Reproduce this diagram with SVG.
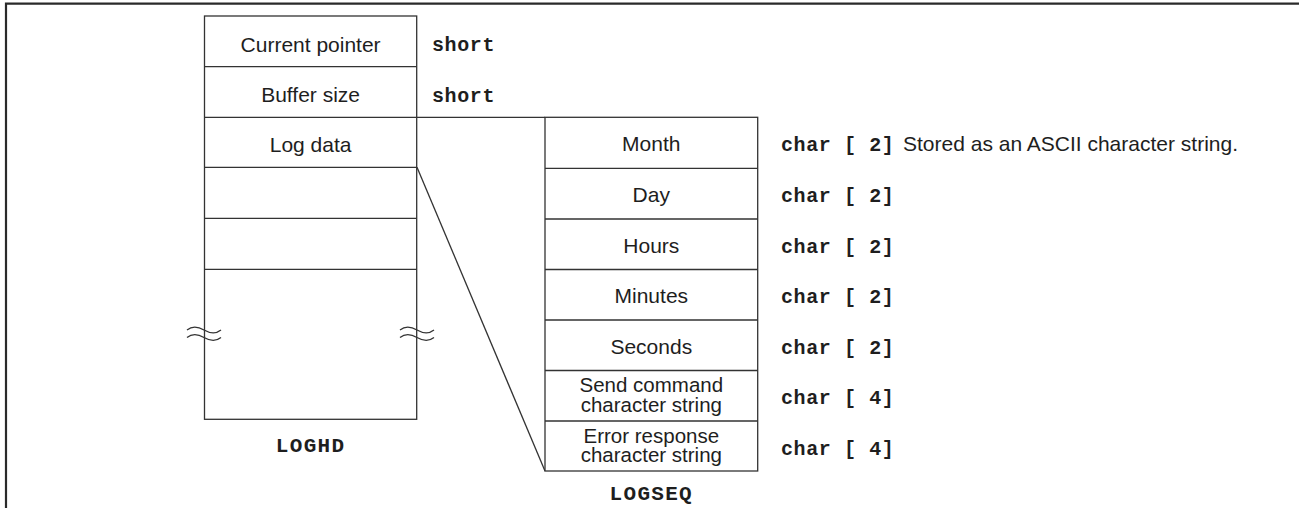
<svg xmlns="http://www.w3.org/2000/svg" width="1299" height="508" viewBox="0 0 1299 508">
<style>
.box{fill:#fff;stroke:#333;stroke-width:1.3}
.ln{fill:none;stroke:#333;stroke-width:1.3}
.lbl{font-family:"Liberation Sans",Arial,sans-serif;font-size:21px;fill:#1e1e1e;text-anchor:middle}
.lbl2{font-family:"Liberation Sans",Arial,sans-serif;font-size:20.5px;fill:#1e1e1e;text-anchor:middle}
.ty{font-family:"Liberation Mono","Courier New",monospace;font-weight:bold;font-size:20px;fill:#1e1e1e;letter-spacing:0.6px}
.ttl{font-family:"Liberation Mono","Courier New",monospace;font-weight:bold;font-size:21px;fill:#1e1e1e;letter-spacing:1.3px;text-anchor:middle}
.note{font-family:"Liberation Sans",Arial,sans-serif;font-size:21px;fill:#1e1e1e}
</style>
<rect width="1299" height="508" fill="#fff"/>
<g id="frame"><path d="M6 508V3.7H1299" fill="none" stroke="#2a2a2a" stroke-width="2.2"/></g>
<g id="connectors">
<path class="ln" d="M417 117.3H545"/>
<path class="ln" d="M417 167.3L545 471"/>
</g>
<g id="loghd">
<rect class="box" x="204.5" y="16" width="212.2" height="403.3"/>
<path class="ln" d="M204.5 66.7H416.7M204.5 117.3H416.7M204.5 167.3H416.7M204.5 218.3H416.7M204.5 269.3H416.7"/>
<path class="ln" d="M187 330c5-4 10-4 17 0s12 4 17 0M187 337.5c5-4 10-4 17 0s12 4 17 0"/>
<path class="ln" d="M400 330c5-4 10-4 17 0s12 4 17 0M400 337.5c5-4 10-4 17 0s12 4 17 0"/>
<text class="lbl" x="310.6" y="51.5">Current pointer</text>
<text class="lbl" x="310.6" y="102">Buffer size</text>
<text class="lbl" x="310.6" y="152">Log data</text>
<text class="ty" x="432" y="51">short</text>
<text class="ty" x="432" y="101.5">short</text>
<text class="ttl" x="310.6" y="451.5">LOGHD</text>
</g>
<g id="logseq">
<rect class="box" x="545" y="117.3" width="212.7" height="353.7"/>
<path class="ln" d="M545 168.3H757.7M545 219H757.7M545 269.5H757.7M545 320H757.7M545 370.5H757.7M545 421H757.7"/>
<text class="lbl" x="651.3" y="151">Month</text>
<text class="lbl" x="651.3" y="202">Day</text>
<text class="lbl" x="651.3" y="252.5">Hours</text>
<text class="lbl" x="651.3" y="303">Minutes</text>
<text class="lbl" x="651.3" y="353.5">Seconds</text>
<text class="lbl2" x="651.3" y="391.5"><tspan x="651.3">Send command</tspan><tspan x="651.3" y="411.5">character string</tspan></text>
<text class="lbl2" x="651.3" y="442.5"><tspan x="651.3">Error response</tspan><tspan x="651.3" y="462">character string</tspan></text>
<text class="ty" x="781" y="151">char [ 2]</text>
<text class="note" x="903" y="151">Stored as an ASCII character string.</text>
<text class="ty" x="781" y="202">char [ 2]</text>
<text class="ty" x="781" y="252.5">char [ 2]</text>
<text class="ty" x="781" y="303">char [ 2]</text>
<text class="ty" x="781" y="353.5">char [ 2]</text>
<text class="ty" x="781" y="404">char [ 4]</text>
<text class="ty" x="781" y="454.5">char [ 4]</text>
<text class="ttl" x="651.3" y="500">LOGSEQ</text>
</g>
</svg>
